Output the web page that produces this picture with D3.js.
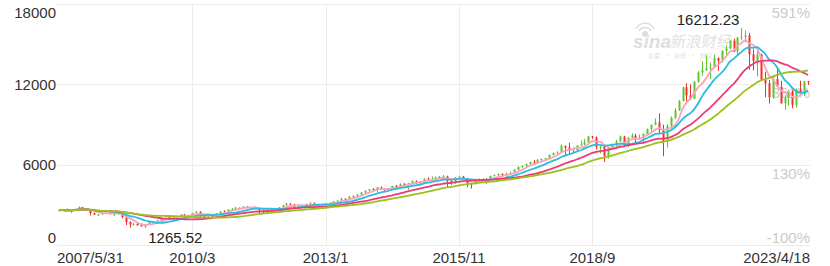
<!DOCTYPE html>
<html>
<head>
<meta charset="utf-8">
<script src="https://cdn.jsdelivr.net/npm/d3@7"></script>
<style>
body { margin: 0; background: #fff; }
svg { display: block; font-family: "Liberation Sans", Arial, sans-serif; }
</style>
</head>
<body>
<script>
// monthly K line, 2007/5 .. 2023/4 (one row per year)
var months = d3.timeMonth.range(new Date(2007, 4, 1), new Date(2023, 4, 1));

var opens = [
  2527, 2605, 2603, 2546, 2596, 2702, 2825, 2661,
  2653, 2390, 2271, 2279, 2413, 2523, 2293, 2326, 2368, 2092, 1721, 1536,
  1578, 1476, 1378, 1529, 1717, 1774, 1835, 1979, 2009, 2122, 2045, 2145,
  2269, 2147, 2238, 2398, 2461, 2257, 2109, 2255, 2114, 2369, 2507, 2498,
  2653, 2700, 2782, 2781, 2874, 2835, 2774, 2756, 2579, 2415, 2684, 2620,
  2605, 2814, 2967, 3092, 3046, 2827, 2935, 2940, 3067, 3116, 2977, 3010,
  3091, 3142, 3160, 3268, 3329, 3456, 3403, 3626, 3590, 3771, 3920, 4060,
  4177, 4104, 4308, 4199, 4115, 4243, 4408, 4370, 4580, 4493, 4631, 4792,
  4736, 4635, 4964, 4901, 4941, 5070, 4987, 5128, 4777, 4620, 5054, 5109,
  5007, 4614, 4558, 4870, 4775, 4948, 4843, 5162, 5213, 5312, 5189, 5324,
  5425, 5615, 5825, 5912, 6048, 6199, 6140, 6348, 6429, 6496, 6728, 6874,
  6937, 7411, 7273, 7063, 7066, 7442, 7510, 7672, 8110, 8046, 7306, 7331,
  6635, 7282, 7533, 7729, 8095, 7453, 8016, 8175, 7963, 7999, 8292, 8665,
  8973, 9151, 8567, 7700, 8890, 9490, 10059, 10745, 11775, 11168, 10912, 12199,
  12888, 13071, 13192, 13247, 13963, 13749, 14504, 14673, 15259, 14449, 15498, 15538,
  15645, 14240, 13751, 14221, 12335, 12081, 11029, 12391, 11816, 10576, 10988, 11468,
  10466, 11585, 11456, 12222
];

var highs = [
  2626, 2660, 2724, 2600, 2714, 2861, 2839, 2725,
  2662, 2419, 2340, 2480, 2552, 2534, 2395, 2473, 2384, 2111, 1780, 1666,
  1667, 1611, 1588, 1749, 1774, 1890, 1985, 2042, 2167, 2190, 2191, 2296,
  2326, 2250, 2404, 2535, 2530, 2353, 2299, 2320, 2381, 2520, 2593, 2672,
  2766, 2840, 2789, 2888, 2888, 2836, 2888, 2769, 2640, 2753, 2740, 2652,
  2815, 2989, 3134, 3106, 3076, 2948, 2971, 3085, 3197, 3183, 3023, 3069,
  3150, 3202, 3268, 3342, 3532, 3482, 3627, 3695, 3808, 3966, 4070, 4177,
  4246, 4343, 4371, 4234, 4247, 4409, 4485, 4580, 4610, 4641, 4810, 4814,
  4777, 4969, 5042, 5120, 5111, 5133, 5232, 5176, 4918, 5086, 5176, 5164,
  5007, 4652, 4894, 4969, 4953, 4980, 5176, 5272, 5343, 5342, 5400, 5487,
  5670, 5866, 5929, 6075, 6230, 6342, 6422, 6460, 6500, 6749, 6914, 7003,
  7506, 7412, 7637, 7289, 7450, 7806, 7934, 8133, 8133, 8107, 7487, 7486,
  7305, 7559, 7849, 8176, 8164, 8054, 8340, 8311, 8244, 8335, 8706, 9022,
  9452, 9838, 9000, 9020, 9598, 10222, 10839, 11829, 12074, 12000, 12229, 12973,
  13729, 14175, 13620, 14212, 14020, 14536, 14864, 15288, 15404, 15505, 16212.23, 16015,
  15852, 14619, 14646, 14283, 12943, 12321, 12705, 13181, 12270, 11187, 11573, 11571,
  11692, 12270, 12240, 12260
];

var lows = [
  2498, 2572, 2539, 2387, 2541, 2681, 2541, 2605,
  2202, 2253, 2156, 2263, 2412, 2290, 2167, 2294, 1983, 1493, 1295, 1426,
  1440, 1374, 1265.52, 1488, 1656, 1770, 1727, 1960, 1968, 2024, 2041, 2144,
  2141, 2100, 2234, 2388, 2061, 2102, 2062, 2099, 2110, 2354, 2464, 2497,
  2652, 2697, 2603, 2742, 2748, 2611, 2740, 2299, 2398, 2298, 2441, 2519,
  2597, 2812, 2919, 2958, 2814, 2726, 2836, 2929, 3045, 2962, 2810, 2956,
  3020, 3105, 3153, 3154, 3307, 3294, 3402, 3578, 3588, 3705, 3873, 3983,
  4103, 3946, 4127, 3946, 4030, 4238, 4364, 4322, 4463, 4117, 4570, 4547,
  4563, 4616, 4842, 4856, 4909, 4982, 4909, 4292, 4487, 4566, 4999, 4899,
  4313, 4210, 4506, 4754, 4712, 4575, 4817, 5140, 5150, 5145, 5034, 5314,
  5398, 5585, 5769, 5805, 5996, 6081, 6090, 6177, 6349, 6489, 6706, 6779,
  6937, 6631, 6805, 6826, 7011, 7413, 7453, 7659, 7923, 7124, 6831, 6190,
  6457, 7259, 7332, 7728, 7446, 7292, 7960, 7662, 7850, 7700, 8290, 8464,
  8944, 8264, 6631, 7287, 8704, 9403, 10000, 10742, 10519, 10822, 10890, 12125,
  12618, 13004, 12397, 13210, 13002, 13626, 14181, 14600, 14431, 14182, 15287, 15150,
  13094, 13039, 12588, 12300, 11036, 10565, 10922, 11800, 10560, 10089, 10393, 10207,
  10265, 11310, 11138, 11950
];

var closes = [
  2604.52, 2603, 2546, 2596, 2702, 2859, 2661, 2652,
  2390, 2271, 2279, 2413, 2523, 2293, 2326, 2368, 2092, 1721, 1536, 1577,
  1476, 1378, 1529, 1717, 1774, 1835, 1979, 2009, 2122, 2045, 2145, 2269,
  2147, 2238, 2398, 2461, 2257, 2109, 2255, 2114, 2369, 2507, 2498, 2653,
  2700, 2782, 2781, 2874, 2835, 2774, 2756, 2579, 2415, 2684, 2620, 2605,
  2814, 2967, 3092, 3046, 2827, 2935, 2940, 3067, 3116, 2977, 3010, 3020,
  3142, 3160, 3268, 3329, 3456, 3403, 3626, 3590, 3771, 3920, 4060, 4177,
  4104, 4308, 4199, 4115, 4243, 4408, 4370, 4580, 4493, 4631, 4792, 4736,
  4635, 4964, 4901, 4941, 5070, 4987, 5128, 4777, 4620, 5054, 5109, 5007,
  4614, 4558, 4870, 4775, 4948, 4843, 5162, 5213, 5312, 5189, 5324, 5383,
  5615, 5825, 5912, 6048, 6199, 6140, 6348, 6429, 6496, 6728, 6874, 6903,
  7411, 7273, 7063, 7066, 7442, 7510, 7672, 8110, 8046, 7306, 7331, 6635,
  7282, 7533, 7729, 8095, 7453, 8006, 8175, 7963, 7999, 8292, 8665, 8973,
  9151, 8567, 7700, 8890, 9490, 10059, 10745, 11775, 11168, 10912, 12199, 12888,
  13071, 13192, 13247, 13963, 13749, 14504, 14673, 15259, 14449, 15498, 15538, 15645,
  14240, 13751, 14221, 12335, 12081, 11029, 12391, 11816, 10576, 10988, 11468, 10466,
  11585, 11456, 12222, 12153
];

var maPeriods = [5, 10, 20, 30];
var maColors = ["#fca2bf", "#29bde2", "#ec3b76", "#9cc11f"];

var valueTicks = [0, 6000, 12000, 18000];
var dateTicks = ["2007/5/31", "2010/3", "2013/1", "2015/11", "2018/9", "2023/4/18"];

var W = 830, H = 266;
var plotL = 57, plotR = 810, plotT = 4, plotB = 245;
var upColor = "#5cc62b", downColor = "#f5302c";

var svg = d3.select("body").append("svg").attr("width", W).attr("height", H);

var idx = d3.range(closes.length);
var x = d3.scaleBand().domain(idx).range([plotL, plotR]).padding(0);
var y = d3.scaleLinear().domain([0, 18000]).range([plotB, plotT]);
var cx = function(i) { return x(i) + x.bandwidth() / 2; };

var monthKey = d3.timeFormat("%Y/%-m");
var tickIndex = dateTicks.map(function(t) {
  var k = t.split("/").slice(0, 2).join("/");
  return months.findIndex(function(m) { return monthKey(m) == k; });
});

// grid
var grid = svg.append("g").attr("stroke", "#ececec").attr("stroke-width", 1);
grid.selectAll("line.h").data(valueTicks).enter().append("line")
  .attr("x1", plotL).attr("x2", plotR)
  .attr("y1", function(d) { return Math.round(y(d)) + 0.5; })
  .attr("y2", function(d) { return Math.round(y(d)) + 0.5; });
grid.selectAll("line.v").data(tickIndex.slice(1, -1)).enter().append("line")
  .attr("y1", plotT).attr("y2", plotB)
  .attr("x1", function(d) { return Math.round(cx(d)) + 0.5; })
  .attr("x2", function(d) { return Math.round(cx(d)) + 0.5; });

// left axis
svg.append("g").selectAll("text").data(valueTicks).enter().append("text")
  .attr("x", 56).attr("text-anchor", "end")
  .attr("y", function(d) { return Math.max(plotT + 14, Math.min(plotB - 2.5, y(d) + 5.5)); })
  .attr("font-size", 15).attr("fill", "#333")
  .text(function(d) { return d; });

// right axis, change vs first close
var base = closes[0];
svg.append("g").selectAll("text").data(valueTicks).enter().append("text")
  .attr("x", plotR).attr("text-anchor", "end")
  .attr("y", function(d) { return Math.min(plotB - 2, y(d) + 14); })
  .attr("font-size", 15).attr("fill", "#cbcbcb")
  .text(function(d) { return Math.round((d / base - 1) * 100) + "%"; });

// date labels
svg.append("g").selectAll("text").data(dateTicks).enter().append("text")
  .attr("y", 263).attr("font-size", 15).attr("fill", "#333")
  .attr("x", function(d, i) {
    if (i == 0) return plotL;
    if (i == dateTicks.length - 1) return plotR;
    return cx(tickIndex[i]);
  })
  .attr("text-anchor", function(d, i) {
    return i == 0 ? "start" : (i == dateTicks.length - 1 ? "end" : "middle");
  })
  .text(function(d) { return d; });

// watermark
var wm = svg.append("g").attr("fill", "#dedede");
wm.append("text").attr("x", 633).attr("y", 48).attr("font-size", 19)
  .attr("font-weight", "bold").attr("font-style", "italic").text("sina");
wm.append("circle").attr("cx", 645).attr("cy", 34).attr("r", 3);
wm.append("path").attr("fill", "none").attr("stroke", "#dedede").attr("stroke-width", 1.5)
  .attr("d", "M639,31 A7,7 0 0,1 651,31 M636,29 A10,10 0 0,1 654,29");
wm.append("text").attr("x", 670).attr("y", 47).attr("font-size", 15.5)
  .attr("font-family", "Noto Sans CJK SC").attr("transform", "skewX(-8) translate(6.5,0)")
  .attr("fill", "#e2e2e2").text("新浪财经");
wm.append("text").attr("x", 648).attr("y", 57.5).attr("font-size", 6)
  .attr("font-family", "Noto Sans CJK SC").attr("fill", "#dedede")
  .attr("xml:space", "preserve").text("众票   ·   资讯   ·   财富");

// candles
var candles = svg.append("g").selectAll("g").data(idx).enter().append("g")
  .attr("fill", function(i) { return closes[i] >= opens[i] ? upColor : downColor; })
  .attr("stroke", function(i) { return closes[i] >= opens[i] ? upColor : downColor; });
candles.append("line")
  .attr("x1", function(i) { return Math.round(cx(i)) + 0.5; })
  .attr("x2", function(i) { return Math.round(cx(i)) + 0.5; })
  .attr("y1", function(i) { return y(highs[i]); })
  .attr("y2", function(i) { return y(lows[i]); })
  .attr("stroke-width", 1);
candles.append("rect").attr("stroke", "none")
  .attr("x", function(i) { return Math.round(cx(i)) - 0.5; })
  .attr("width", 2)
  .attr("y", function(i) { return y(Math.max(opens[i], closes[i])); })
  .attr("height", function(i) { return Math.max(1, Math.abs(y(opens[i]) - y(closes[i]))); });

// moving averages of the closes
var line = d3.line().x(function(d) { return cx(d[0]); }).y(function(d) { return y(d[1]); })
  .curve(d3.curveMonotoneX);
maPeriods.forEach(function(p, k) {
  var ma = idx.map(function(i) {
    return [i, d3.mean(closes.slice(Math.max(0, i - p + 1), i + 1))];
  });
  svg.append("path").datum(ma).attr("d", line)
    .attr("fill", "none").attr("stroke", maColors[k]).attr("stroke-width", 1.8);
});

// extremes
var hi = d3.maxIndex(highs), lo = d3.minIndex(lows);
svg.append("text").attr("x", cx(hi) - 2).attr("y", y(highs[hi]) - 2.5)
  .attr("text-anchor", "end").attr("font-size", 15).attr("fill", "#222")
  .text(d3.format(".2f")(highs[hi]));
svg.append("text").attr("x", cx(lo) + 3).attr("y", Math.min(plotB - 2, y(lows[lo]) + 15))
  .attr("font-size", 15).attr("fill", "#222")
  .text(d3.format(".2f")(lows[lo]));
</script>
</body>
</html>
